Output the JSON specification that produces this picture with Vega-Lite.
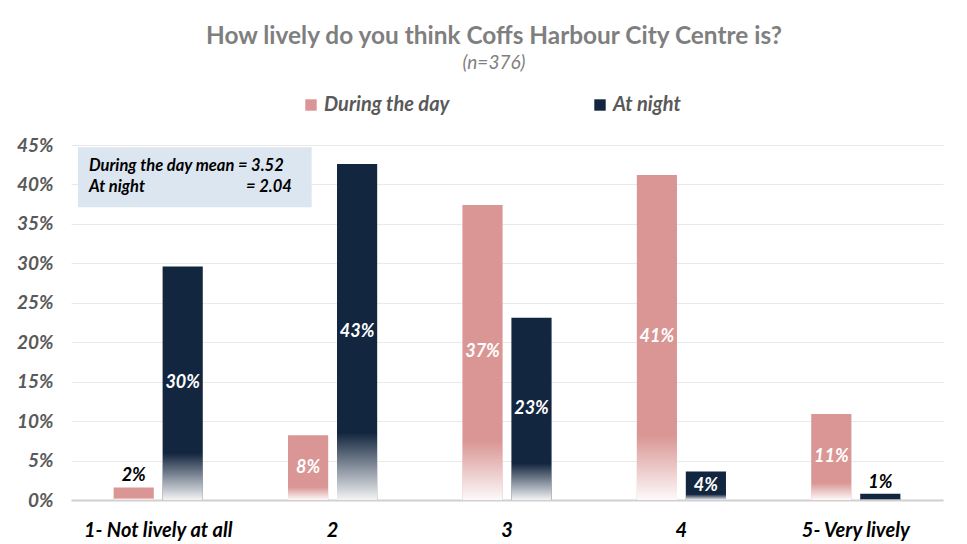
{
  "$schema": "https://vega.github.io/schema/vega-lite/v6.json",
  "width": 872,
  "height": 355,
  "autosize": {"type": "none"},
  "padding": {"left": 71, "top": 145, "right": 24, "bottom": 44},
  "background": "#ffffff",
  "title": {
    "text": "How lively do you think Coffs Harbour City Centre is?",
    "subtitle": "(n=376)",
    "anchor": "middle",
    "frame": "group",
    "dx": -13,
    "offset": 21,
    "font": "Lato",
    "fontSize": 24.4,
    "fontWeight": "bold",
    "color": "#7f7f7f",
    "subtitleFont": "Lato",
    "subtitleFontSize": 19,
    "subtitleFontStyle": "italic",
    "subtitleColor": "#7f7f7f",
    "subtitlePadding": 5
  },
  "config": {
    "view": {"stroke": null},
    "font": "Lato"
  },
  "resolve": {"scale": {"x": "independent"}, "axis": {"y": "independent", "x": "independent"}},
  "layer": [
    {
      "data": {
        "values": [
          {"rating": "1- Not lively at all", "period": "During the day", "value": 0.016},
          {"rating": "1- Not lively at all", "period": "At night", "value": 0.296},
          {"rating": "2", "period": "During the day", "value": 0.082},
          {"rating": "2", "period": "At night", "value": 0.426},
          {"rating": "3", "period": "During the day", "value": 0.374},
          {"rating": "3", "period": "At night", "value": 0.231},
          {"rating": "4", "period": "During the day", "value": 0.412},
          {"rating": "4", "period": "At night", "value": 0.036},
          {"rating": "5- Very lively", "period": "During the day", "value": 0.109},
          {"rating": "5- Very lively", "period": "At night", "value": 0.008}
        ]
      },
      "encoding": {
        "x": {
          "field": "rating",
          "type": "nominal",
          "sort": null,
          "scale": {
            "domain": ["1- Not lively at all", "2", "3", "4", "5- Very lively"],
            "paddingInner": 0,
            "paddingOuter": 0
          },
          "axis": {
            "title": null,
            "labelAngle": 0,
            "labelFont": "Lato",
            "labelFontSize": 20,
            "labelFontWeight": "bold",
            "labelFontStyle": "italic",
            "labelColor": "#000000",
            "labelPadding": 20,
            "ticks": false,
            "domainColor": "#d0d0d0",
            "domainWidth": 2,
            "grid": false
          }
        },
        "xOffset": {
          "field": "period",
          "type": "nominal",
          "sort": ["During the day", "At night"],
          "scale": {"paddingInner": 0.18, "paddingOuter": 0.87}
        },
        "y": {
          "field": "value",
          "type": "quantitative",
          "scale": {"domain": [0, 0.45], "nice": false},
          "axis": {
            "title": null,
            "values": [0, 0.05, 0.1, 0.15, 0.2, 0.25, 0.3, 0.35, 0.4, 0.45],
            "format": ".0%",
            "labelFont": "Lato",
            "labelFontSize": 19,
            "labelFontWeight": "bold",
            "labelFontStyle": "italic",
            "labelColor": "#595959",
            "labelPadding": 18,
            "ticks": false,
            "domain": false,
            "gridColor": "#e9e9e9",
            "gridWidth": 1
          }
        }
      },
      "layer": [
        {
          "mark": {"type": "bar"},
          "encoding": {
            "color": {
              "field": "period",
              "type": "nominal",
              "sort": ["During the day", "At night"],
              "scale": {"domain": ["During the day", "At night"], "range": ["#d99694", "#13263f"]},
              "legend": {
                "title": null,
                "orient": "none",
                "direction": "horizontal",
                "legendX": 230,
                "legendY": -50,
                "symbolType": "square",
                "symbolSize": 130,
                "symbolStrokeWidth": 0,
                "labelFont": "Lato",
                "labelFontSize": 20,
                "labelFontStyle": "italic",
                "labelFontWeight": "bold",
                "labelColor": "#595959",
                "labelOffset": 3,
                "columnPadding": 140
              }
            }
          }
        },
        {
          "mark": {
            "type": "bar",
            "fill": {
              "gradient": "linear",
              "x1": 0, "y1": 0, "x2": 0, "y2": 1,
              "stops": [
                {"offset": 0, "color": "rgba(255,255,255,0)"},
                {"offset": 0.8, "color": "rgba(255,255,255,0)"},
                {"offset": 1, "color": "rgba(255,255,255,0.95)"}
              ]
            }
          }
        },
        {
          "transform": [
            {"filter": "datum.value >= 0.03"},
            {"calculate": "datum.value / 2", "as": "mid"}
          ],
          "mark": {
            "type": "text",
            "font": "Lato",
            "fontSize": 18,
            "fontWeight": "bold",
            "fontStyle": "italic",
            "color": "#ffffff",
            "baseline": "middle"
          },
          "encoding": {
            "y": {"field": "mid", "type": "quantitative"},
            "text": {"field": "value", "type": "quantitative", "format": ".0%"}
          }
        },
        {
          "transform": [{"filter": "datum.value < 0.03"}],
          "mark": {
            "type": "text",
            "font": "Lato",
            "fontSize": 18,
            "fontWeight": "bold",
            "fontStyle": "italic",
            "color": "#000000",
            "baseline": "bottom",
            "dy": -2
          },
          "encoding": {
            "text": {"field": "value", "type": "quantitative", "format": ".0%"}
          }
        }
      ]
    },
    {
      "data": {
        "values": [
          {"line": "During the day mean = 3.52", "left": 0.04, "right": 1.38, "top": 0.447, "bottom": 0.371, "textx": 0.103, "texty": 0.424},
          {"line": "At night", "textx": 0.103, "texty": 0.397}
        ]
      },
      "layer": [
        {
          "transform": [{"filter": "datum.left != null"}],
          "mark": {"type": "rect", "color": "#dce6f1"},
          "encoding": {
            "x": {"field": "left", "type": "quantitative", "scale": {"domain": [0, 5], "nice": false, "zero": false}, "axis": null},
            "x2": {"field": "right"},
            "y": {"field": "top", "type": "quantitative", "axis": null},
            "y2": {"field": "bottom"}
          }
        },
        {
          "mark": {
            "type": "text",
            "font": "Lato",
            "fontSize": 16.5,
            "fontWeight": "bold",
            "fontStyle": "italic",
            "color": "#000000",
            "align": "left",
            "baseline": "middle"
          },
          "encoding": {
            "x": {"field": "textx", "type": "quantitative", "axis": null},
            "y": {"field": "texty", "type": "quantitative", "axis": null},
            "text": {"field": "line"}
          }
        },
        {
          "transform": [{"filter": "datum.line == 'At night'"}],
          "mark": {
            "type": "text",
            "font": "Lato",
            "fontSize": 16.5,
            "fontWeight": "bold",
            "fontStyle": "italic",
            "color": "#000000",
            "align": "right",
            "baseline": "middle"
          },
          "encoding": {
            "x": {"datum": 1.266, "type": "quantitative", "axis": null},
            "y": {"field": "texty", "type": "quantitative", "axis": null},
            "text": {"value": "= 2.04"}
          }
        }
      ]
    }
  ]
}
